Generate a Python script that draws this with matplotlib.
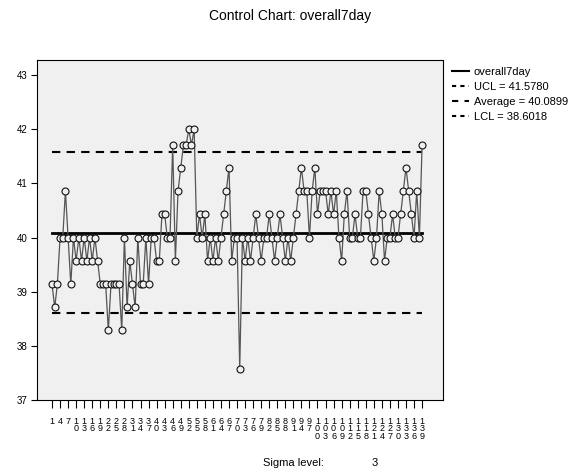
import matplotlib
matplotlib.use("Agg")
import matplotlib.pyplot as plt
import numpy as np
from matplotlib.lines import Line2D

plt.rcParams['font.family'] = ['Liberation Sans', 'DejaVu Sans']

# overall7day values, one per sample
values = [39.14, 38.71, 39.14, 40.0, 40.0, 40.86, 40.0, 39.14, 40.0, 39.57,
          40.0, 39.57, 40.0, 39.57, 40.0, 39.57, 40.0, 39.57, 39.14, 39.14,
          39.14, 38.29, 39.14, 39.14, 39.14, 39.14, 38.29, 40.0, 38.71, 39.57,
          39.14, 38.71, 40.0, 39.14, 39.14, 40.0, 39.14, 40.0, 40.0, 39.57,
          39.57, 40.43, 40.43, 40.0, 40.0, 41.71, 39.57, 40.86, 41.29, 41.71,
          41.71, 42.0, 41.71, 42.0, 40.0, 40.43, 40.0, 40.43, 39.57, 40.0,
          39.57, 40.0, 39.57, 40.0, 40.43, 40.86, 41.29, 39.57, 40.0, 40.0,
          37.57, 40.0, 39.57, 40.0, 39.57, 40.0, 40.43, 40.0, 39.57, 40.0,
          40.0, 40.43, 40.0, 39.57, 40.0, 40.43, 40.0, 39.57, 40.0, 39.57,
          40.0, 40.43, 40.86, 41.29, 40.86, 40.86, 40.0, 40.86, 41.29, 40.43,
          40.86, 40.86, 40.86, 40.43, 40.86, 40.43, 40.86, 40.0, 39.57, 40.43,
          40.86, 40.0, 40.0, 40.43, 40.0, 40.0, 40.86, 40.86, 40.43, 40.0,
          39.57, 40.0, 40.86, 40.43, 39.57, 40.0, 40.0, 40.43, 40.0, 40.0,
          40.43, 40.86, 41.29, 40.86, 40.43, 40.0, 40.86, 40.0, 41.71]
samples = np.arange(1, len(values) + 1)

ucl = 41.5780
average = 40.0899
lcl = 38.6018
sigma = 3

xtick_pos = list(range(1, 140, 3))
xtick_labels = ['\n'.join(str(n)) for n in xtick_pos]
ytick_pos = [37, 38, 39, 40, 41, 42, 43]

fig = plt.figure(figsize=(5.81, 4.74), dpi=100)
ax = fig.add_axes([37/581, 1-400/474, 406/581, 340/474])
ax.set_facecolor('#f0f0f0')

ax.plot(samples, values, color='#555555', lw=0.9, zorder=3)
ax.plot(samples, values, ls='none', marker='o', ms=5, mfc='#f0f0f0',
        mec='#111111', mew=0.8, zorder=4)
ax.plot([samples[0], samples[-1]], [ucl, ucl], color='black', lw=1.5,
        dashes=(4, 3), zorder=2)
ax.plot([samples[0], samples[-1]], [average, average], color='black', lw=2,
        zorder=2)
ax.plot([samples[0], samples[-1]], [lcl, lcl], color='black', lw=1.5,
        dashes=(4, 3), zorder=2)

ax.set_xlim(-4.6, 146.8)
ax.set_ylim(37, 43.28)
ax.set_xticks(xtick_pos)
ax.set_xticklabels(xtick_labels, fontsize=6.5, linespacing=0.8)
ax.set_yticks(ytick_pos)
ax.set_yticklabels([str(t) for t in ytick_pos], fontsize=7)
ax.tick_params(axis='x', length=6, width=0.8, pad=6)
ax.tick_params(axis='y', length=4, width=0.8, pad=3)
for s in ax.spines.values():
    s.set_linewidth(0.8)

handles = [Line2D([], [], color='black', lw=1.5),
           Line2D([], [], color='black', lw=1.5, dashes=(2, 2)),
           Line2D([], [], color='black', lw=1.5, dashes=(3, 3)),
           Line2D([], [], color='black', lw=1.5, dashes=(2, 2))]
labels = ['overall7day', 'UCL = %.4f' % ucl, 'Average = %.4f' % average,
          'LCL = %.4f' % lcl]
ax.legend(handles, labels, loc='upper left', bbox_to_anchor=(1.005, 1.0),
          frameon=False, fontsize=8, handlelength=1.6, handletextpad=0.4,
          labelspacing=0.45, borderaxespad=0.2)

fig.text(0.5, 1-16/474, 'Control Chart: overall7day', ha='center',
         va='center', fontsize=10)
fig.text(263/581, 1-463/474, 'Sigma level:', ha='left', va='center',
         fontsize=8)
fig.text(372/581, 1-463/474, str(sigma), ha='left', va='center', fontsize=8)

fig.savefig('out.png', dpi=100)
